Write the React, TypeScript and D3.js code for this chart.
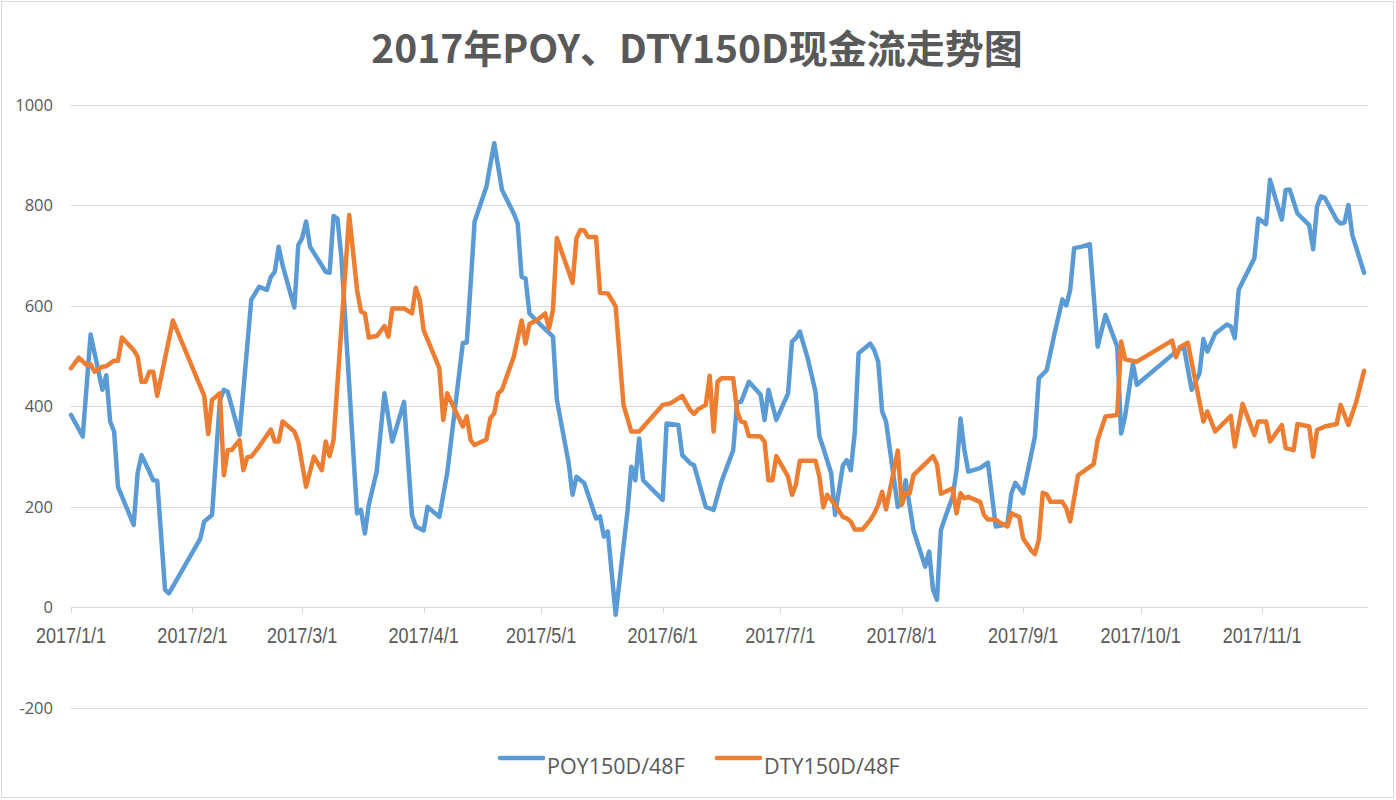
import React, { useRef, useEffect } from 'react';
import * as d3 from 'd3';

// days are counted from 2017/1/1
const poyDays = [0, 3, 5, 8, 9, 10, 11, 12, 16, 17, 18, 20, 21, 22, 24, 25, 33, 34, 36, 38, 39, 40, 43, 46, 48, 50, 51, 52, 53, 54, 57, 58, 59, 60, 61, 65, 66, 67, 68, 69, 73, 74, 75, 76, 78, 80, 82, 85, 87, 88, 90, 91, 94, 96, 100, 101, 102, 103, 106, 108, 110, 113, 114, 115, 116, 117, 119, 123, 124, 127, 128, 129, 131, 134, 135, 136, 137, 139, 142, 143, 144, 145, 146, 151, 152, 155, 156, 158, 159, 162, 164, 166, 169, 170, 171, 173, 176, 177, 178, 180, 183, 184, 185, 186, 188, 190, 191, 192, 194, 195, 197, 198, 199, 200, 201, 204, 205, 206, 207, 208, 211, 212, 213, 215, 218, 219, 220, 221, 222, 223, 225, 226, 227, 228, 229, 232, 234, 236, 238, 239, 240, 241, 243, 246, 247, 249, 251, 253, 254, 255, 256, 258, 260, 262, 264, 267, 268, 269, 271, 272, 282, 284, 286, 288, 289, 290, 292, 295, 296, 297, 298, 299, 302, 303, 305, 306, 309, 310, 311, 313, 316, 317, 318, 319, 320, 323, 324, 325, 326, 327, 330];
const poyValues = [383, 340, 543, 433, 462, 370, 350, 240, 164, 267, 303, 270, 253, 252, 35, 28, 137, 171, 184, 413, 433, 429, 343, 612, 638, 632, 658, 668, 718, 681, 597, 721, 735, 768, 718, 668, 666, 779, 774, 698, 187, 194, 147, 204, 270, 426, 330, 409, 184, 161, 153, 200, 180, 267, 526, 527, 645, 768, 837, 924, 831, 784, 764, 658, 655, 585, 569, 539, 413, 287, 224, 260, 247, 177, 181, 141, 151, -15, 190, 280, 253, 336, 253, 214, 366, 363, 303, 287, 283, 200, 194, 250, 313, 409, 409, 449, 423, 373, 433, 373, 426, 529, 536, 549, 496, 429, 340, 317, 267, 184, 283, 293, 273, 346, 506, 525, 512, 489, 390, 370, 200, 207, 253, 154, 81, 111, 35, 15, 154, 177, 220, 273, 376, 313, 270, 277, 288, 161, 164, 167, 227, 248, 227, 340, 456, 472, 545, 613, 601, 632, 715, 718, 723, 519, 582, 519, 346, 380, 485, 443, 509, 519, 433, 466, 534, 509, 545, 563, 559, 536, 632, 648, 695, 774, 763, 851, 772, 831, 832, 784, 761, 713, 798, 818, 815, 771, 764, 766, 801, 741, 666];

const dtyDays = [0, 2, 4, 5, 6, 8, 9, 11, 12, 13, 16, 17, 18, 19, 20, 21, 22, 26, 34, 35, 36, 38, 39, 40, 41, 43, 44, 45, 46, 48, 51, 52, 53, 54, 57, 58, 60, 62, 64, 65, 66, 67, 71, 73, 74, 75, 76, 78, 80, 81, 82, 85, 87, 88, 89, 90, 94, 95, 96, 100, 101, 102, 103, 106, 107, 108, 109, 110, 113, 115, 116, 117, 119, 121, 122, 123, 124, 128, 129, 130, 131, 132, 134, 135, 137, 139, 141, 143, 145, 151, 153, 156, 158, 159, 160, 162, 163, 164, 165, 166, 169, 170, 171, 172, 173, 176, 177, 178, 179, 180, 183, 184, 185, 186, 190, 191, 192, 193, 195, 197, 198, 199, 200, 202, 204, 205, 206, 207, 208, 211, 212, 213, 214, 215, 220, 221, 222, 225, 226, 227, 228, 229, 232, 233, 234, 236, 237, 239, 240, 242, 243, 245, 246, 247, 248, 249, 250, 253, 254, 255, 257, 261, 262, 264, 267, 268, 269, 272, 281, 282, 283, 285, 289, 290, 292, 296, 297, 299, 302, 303, 305, 306, 309, 310, 312, 313, 316, 317, 318, 320, 323, 324, 326, 328, 330];
const dtyValues = [476, 497, 482, 484, 469, 479, 480, 491, 491, 537, 512, 499, 449, 449, 469, 469, 421, 571, 421, 345, 413, 426, 263, 313, 313, 333, 273, 299, 300, 320, 354, 330, 330, 370, 350, 330, 240, 300, 273, 330, 301, 333, 781, 632, 589, 585, 537, 540, 560, 539, 595, 595, 585, 636, 612, 552, 476, 373, 426, 360, 380, 333, 323, 334, 376, 386, 426, 433, 499, 571, 525, 564, 572, 585, 555, 592, 735, 646, 735, 751, 750, 737, 737, 626, 625, 599, 403, 350, 350, 403, 406, 421, 393, 385, 394, 403, 461, 350, 449, 456, 456, 390, 370, 368, 341, 340, 330, 253, 253, 301, 260, 224, 244, 292, 292, 260, 199, 224, 204, 180, 177, 171, 155, 155, 174, 187, 204, 230, 195, 312, 204, 227, 226, 263, 301, 285, 226, 237, 187, 227, 217, 220, 210, 184, 175, 175, 169, 161, 187, 180, 137, 114, 106, 135, 228, 225, 210, 210, 197, 171, 263, 285, 333, 380, 383, 529, 494, 489, 531, 498, 518, 527, 370, 390, 350, 381, 320, 405, 343, 370, 370, 330, 363, 317, 313, 365, 360, 300, 353, 360, 365, 403, 363, 409, 471];

const seriesNames = ['POY150D/48F', 'DTY150D/48F'];
const seriesColors = ['#5B9BD5', '#ED7D31'];
const yTicks = [-200, 0, 200, 400, 600, 800, 1000];
const monthTicks = ['2017/1/1', '2017/2/1', '2017/3/1', '2017/4/1', '2017/5/1', '2017/6/1', '2017/7/1', '2017/8/1', '2017/9/1', '2017/10/1', '2017/11/1'];
const title = '2017年POY、DTY150D现金流走势图';

const start = new Date(2017, 0, 1);
const toDate = (d: number) => d3.timeDay.offset(start, d);

export default function App() {
  const svgRef = useRef<SVGSVGElement>(null);

  useEffect(() => {
    const width = 1396;
    const height = 800;
    const svg = d3.select(svgRef.current);
    svg.selectAll('*').remove();
    svg.attr('width', width).attr('height', height);

    svg.append('rect')
      .attr('x', 0).attr('y', 0).attr('width', width).attr('height', height)
      .attr('fill', '#fff');
    svg.append('rect')
      .attr('x', 1.5).attr('y', 1.5).attr('width', 1392).attr('height', 796)
      .attr('fill', 'none').attr('stroke', '#d9d9d9');

    const x = d3.scaleTime()
      .domain([start, new Date(2017, 10, 28)])
      .range([71, 1368]);
    const y = d3.scaleLinear().domain([-200, 1000]).range([707.8, 105]);

    // gridlines
    svg.append('g')
      .selectAll('line')
      .data(yTicks)
      .join('line')
      .attr('x1', 71).attr('x2', 1368)
      .attr('y1', d => Math.round(y(d)) + 0.5)
      .attr('y2', d => Math.round(y(d)) + 0.5)
      .attr('stroke', '#d9d9d9')
      .attr('stroke-width', 1);

    // y labels
    svg.append('g')
      .selectAll('text')
      .data(yTicks)
      .join('text')
      .attr('x', 53)
      .attr('y', d => y(d))
      .attr('dy', '0.35em')
      .attr('text-anchor', 'end')
      .attr('font-family', '"Open Sans", sans-serif')
      .attr('font-size', 16.5)
      .attr('fill', '#595959')
      .text(d => d);

    // x axis ticks + labels at y = 0
    const monthDates = monthTicks.map(s => d3.timeParse('%Y/%m/%d')(s) as Date);
    const y0 = Math.round(y(0)) + 0.5;
    svg.append('g')
      .selectAll('line')
      .data(monthDates)
      .join('line')
      .attr('x1', d => Math.round(x(d)) + 0.5)
      .attr('x2', d => Math.round(x(d)) + 0.5)
      .attr('y1', y0).attr('y2', y0 + 6)
      .attr('stroke', '#d9d9d9');

    svg.append('g')
      .selectAll('text')
      .data(monthDates)
      .join('text')
      .attr('transform', d => `translate(${x(d)},${y0 + 35}) scale(0.82,1)`)
      .attr('text-anchor', 'middle')
      .attr('font-family', '"Liberation Sans", Arial, sans-serif')
      .attr('font-size', 22)
      .attr('fill', '#595959')
      .text((d, i) => monthTicks[i]);

    // lines
    const line = d3.line<{ date: Date; value: number }>()
      .x(d => x(d.date))
      .y(d => y(d.value));

    const series = [
      poyDays.map((d, i) => ({ date: toDate(d), value: poyValues[i] })),
      dtyDays.map((d, i) => ({ date: toDate(d), value: dtyValues[i] })),
    ];

    svg.append('g')
      .selectAll('path')
      .data(series)
      .join('path')
      .attr('d', d => line(d))
      .attr('fill', 'none')
      .attr('stroke', (d, i) => seriesColors[i])
      .attr('stroke-width', 4.5)
      .attr('stroke-linejoin', 'round')
      .attr('stroke-linecap', 'round');

    // title
    svg.append('text')
      .attr('x', 697)
      .attr('y', 63)
      .attr('text-anchor', 'middle')
      .attr('font-family', '"Noto Sans CJK SC", sans-serif')
      .attr('font-weight', 'bold')
      .attr('font-size', 39)
      .attr('fill', '#595959')
      .text(title);

    // legend
    const legendX = [500, 717];
    const legend = svg.append('g')
      .selectAll('g')
      .data(seriesNames)
      .join('g')
      .attr('transform', (d, i) => `translate(${legendX[i]},0)`);
    legend.append('line')
      .attr('x1', 0).attr('x2', 43)
      .attr('y1', 758).attr('y2', 758)
      .attr('stroke', (d, i) => seriesColors[i])
      .attr('stroke-width', 4.5)
      .attr('stroke-linecap', 'round');
    legend.append('text')
      .attr('x', 47)
      .attr('y', 774)
      .attr('font-family', '"Open Sans", sans-serif')
      .attr('font-size', 21.5)
      .attr('fill', '#595959')
      .text(d => d);
  }, []);

  return (
    <svg ref={svgRef} style={{ position: 'absolute', left: 0, top: 0, display: 'block' }}></svg>
  );
}
